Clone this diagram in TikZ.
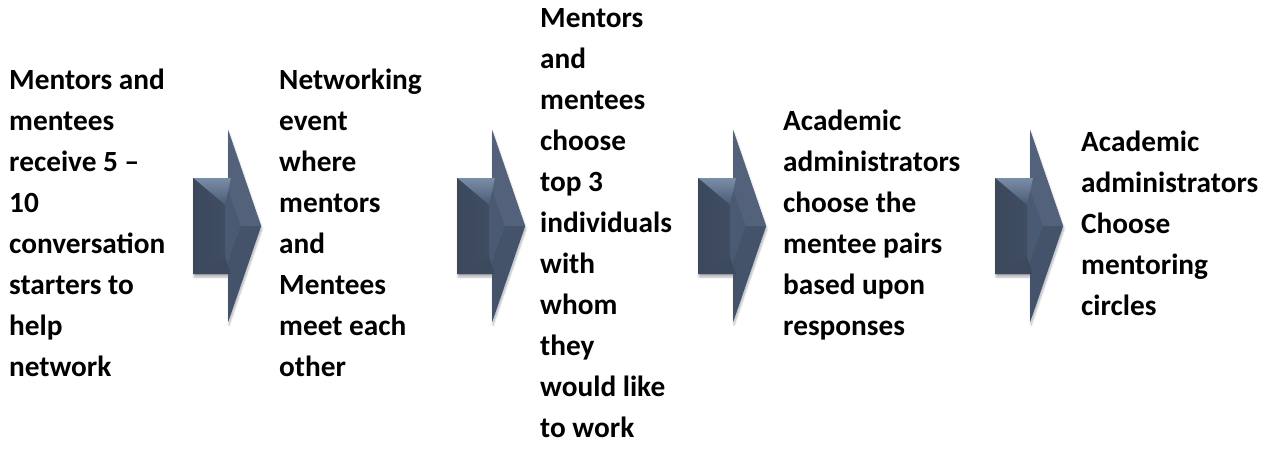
\documentclass[tikz,border=0pt]{standalone}
\usepackage{fontspec}
\setmainfont{Carlito}
\usetikzlibrary{shadows.blur}
\definecolor{slate}{HTML}{4A5A73}
\definecolor{slatelight}{HTML}{7A8DA7}
\definecolor{slatedark}{HTML}{3C485C}
\begin{document}
\begin{tikzpicture}[x=1pt,y=-1pt]
    		\newcommand{\shafttop}{178}
    		\newcommand{\shaftbot}{274}
    		\newcommand{\spiketop}{130}
    		\newcommand{\spikebot}{322}
    		\newcommand{\midy}{226}
    		\newcommand{\shaftw}{35} % width of the shaft
    		\newcommand{\arroww}{68} % width of the whole arrow
    		\newcommand{\texty}{229.3} % vertical centre of the text blocks

    		% set the style of the text blocks and the arrows
    		\tikzset{
    			stagetext/.style={
    				anchor=west,
    				inner sep=0pt,
    				align=left,
    				font=\fontsize{29.3}{41}\selectfont\bfseries,
    				execute at begin node=\strut,
    				execute at end node=\strut
    				},
    			arrowbody/.style={
    				fill=slate,
    				blur shadow={shadow xshift=1pt, shadow yshift=-3pt, shadow opacity=30, shadow blur steps=6}
    				}
    		}

    		% arrow with bevelled faces, #1 = left edge
    		\newcommand{\bevelarrow}[1]{
    			\fill[arrowbody] (#1,\shafttop) -- (#1+\shaftw,\shafttop) -- (#1+\shaftw,\spiketop) -- (#1+\arroww,\midy) -- (#1+\shaftw,\spikebot) -- (#1+\shaftw,\shaftbot) -- (#1,\shaftbot) -- cycle;
    			\fill[slate!95!white] (#1+\shaftw,\spiketop) -- (#1+\arroww,\midy) -- (#1+48,\midy) -- (#1+\shaftw,190) -- cycle;
    			\fill[slate!92!black] (#1+\shaftw,\spikebot) -- (#1+\arroww,\midy) -- (#1+48,\midy) -- (#1+\shaftw,262) -- cycle;
    			\shade[top color=slatelight, bottom color=slate] (#1,\shafttop) -- (#1+38,\shafttop) -- (#1+32,205) -- cycle;
    			\shade[left color=slatedark, right color=slate!85!black] (#1,\shafttop) -- (#1+32,205) -- (#1+32,257) -- (#1,\shaftbot) -- cycle;
    			\fill[slatedark!90!slate] (#1,\shaftbot) -- (#1+38,\shaftbot) -- (#1+32,257) -- cycle;
    		}

    		\useasboundingbox (0,0) rectangle (1277,448);

    		% arrows
    		\bevelarrow{193}
    		\bevelarrow{457}
    		\bevelarrow{698}
    		\bevelarrow{995}

    		% stages
    		\node[stagetext] (starters) at (9,\texty) {Mentors and\\mentees\\receive 5 –\\10\\conversation\\starters to\\help\\network};
    		\node[stagetext] (event) at (279,\texty) {Networking\\event\\where\\mentors\\and\\Mentees\\meet each\\other};
    		\node[stagetext] (choice) at (540,\texty) {Mentors\\and\\mentees\\choose\\top 3\\individuals\\with\\whom\\they\\would like\\to work};
    		\node[stagetext] (pairs) at (783,\texty) {Academic\\administrators\\choose the\\mentee pairs\\based upon\\responses};
    		\node[stagetext] (circles) at (1081,\texty) {Academic\\administrators\\Choose\\mentoring\\circles};

\end{tikzpicture}
\end{document}
